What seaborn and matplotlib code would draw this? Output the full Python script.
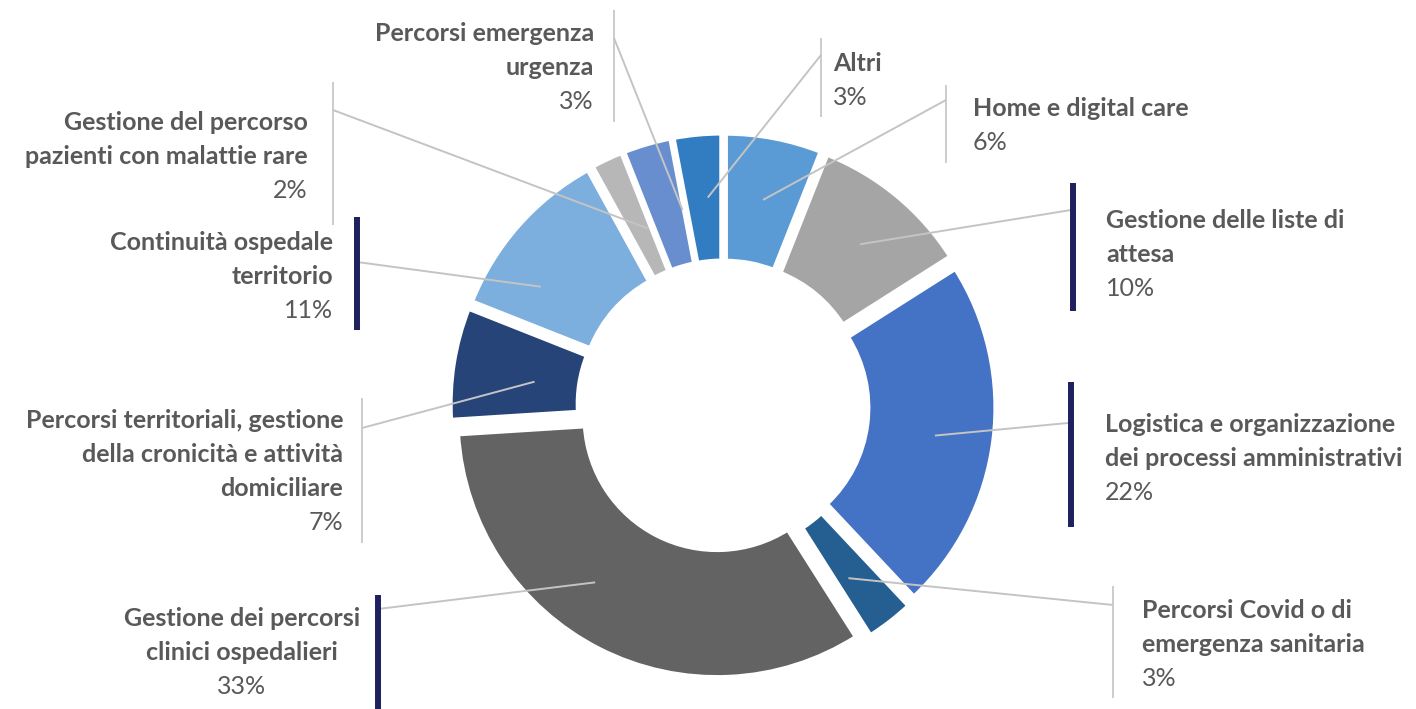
import matplotlib
matplotlib.use("Agg")
import matplotlib.pyplot as plt
import seaborn as sns
import numpy as np

# ---------------- data ----------------
categories = [
    "Home e digital care",
    "Gestione delle liste di attesa",
    "Logistica e organizzazione dei processi amministrativi",
    "Percorsi Covid o di emergenza sanitaria",
    "Gestione dei percorsi clinici ospedalieri",
    "Percorsi territoriali, gestione della cronicità e attività domiciliare",
    "Continuità ospedale territorio",
    "Gestione del percorso pazienti con malattie rare",
    "Percorsi emergenza urgenza",
    "Altri",
]
values = [6, 10, 22, 3, 33, 7, 11, 2, 3, 3]
wrapped_labels = [
    ["Home e digital care"],
    ["Gestione delle liste di", "attesa"],
    ["Logistica e organizzazione", "dei processi amministrativi"],
    ["Percorsi Covid o di", "emergenza sanitaria"],
    ["Gestione dei percorsi", "clinici ospedalieri"],
    ["Percorsi territoriali, gestione", "della cronicità e attività", "domiciliare"],
    ["Continuità ospedale", "territorio"],
    ["Gestione del percorso", "pazienti con malattie rare"],
    ["Percorsi emergenza", "urgenza"],
    ["Altri"],
]
slice_colors = ["#5B9BD5", "#A5A5A5", "#4472C4", "#255E91", "#636363",
                "#264478", "#7CAFDD", "#B7B7B7", "#698ED0", "#327DC2"]

# ---------------- layout (pixel coordinates, y from top) ----------------
W, H = 1416, 709
label_x = [973, 1106, 1105, 1142, 242, 343, 333, 308, 594, 833]
label_ha = ["left", "left", "left", "left", "center", "right", "right", "right", "right", "left"]
label_y0 = [108, 220, 424, 610, 618, 420, 242, 122, 33, 63]
bar_x = [946, 1073, 1071, 1113, 378, 362, 357, 333, 614, 821]
bar_y = [(85, 163), (183, 311), (382, 527), (586, 698), (595, 712), (398, 543),
         (217, 330), (82, 225), (10, 122), (38, 117)]
bar_navy = [False, True, True, False, True, False, True, False, False, False]
leader_start = [(946, 100), (1071, 210), (1068, 423), (1113, 605), (378, 609),
                (362, 428), (357, 262), (333, 110), (614, 38), (821, 55)]
# where the leader line ends inside each slice: fraction of the slice's
# angular span (clockwise) and distance from the slice's own centre
leader_frac = [0.51, 0.52, 0.51, 0.67, 0.58, 0.43, 0.28, 0.83, 0.95, 0.62]
leader_rad = [197, 199, 201, 200, 205, 177, 205, 180, 187, 196]

sns.set_theme(style="white")
plt.rcParams['font.family'] = ['Lato', 'DejaVu Sans']

fig = plt.figure(figsize=(W / 100, H / 100), dpi=100)
ax = fig.add_axes([0, 0, 1, 1])

CX, CY = 723, H - 406
R = 260
RING = 128
EXP = 13  # explode offset (data units = pixels)

palette = sns.color_palette(slice_colors)
wedges, _ = ax.pie(values, colors=palette, startangle=90, counterclock=False,
                   radius=R, center=(CX, CY), explode=[EXP] * len(values),
                   wedgeprops=dict(width=RING, edgecolor="white", linewidth=3.6),
                   frame=True)
ax.set_xlim(0, W)
ax.set_ylim(0, H)
ax.axis("off")

TXT = "#595959"
FS = 18
LS = 34
GRAY_LINE = "#C4C4C4"
NAVY = "#1F215E"

for k, w in enumerate(wedges):
    # leader line endpoint inside the slice (clockwise: from theta2 down to theta1)
    th = np.deg2rad(w.theta2 - leader_frac[k] * (w.theta2 - w.theta1))
    cx, cy = w.center
    ex, ey = cx + leader_rad[k] * np.cos(th), cy + leader_rad[k] * np.sin(th)
    sx, sy = leader_start[k]
    ax.plot([sx, ex], [H - sy, ey], color=GRAY_LINE, lw=1.4, zorder=5,
            solid_capstyle="butt")
    # label edge bar
    y1, y2 = bar_y[k]
    if bar_navy[k]:
        ax.plot([bar_x[k], bar_x[k]], [H - y1, H - y2], color=NAVY, lw=4.3,
                zorder=6, solid_capstyle="butt")
    else:
        ax.plot([bar_x[k], bar_x[k]], [H - y1, H - y2], color=GRAY_LINE, lw=1.2,
                zorder=6, solid_capstyle="butt")
    # label text
    lines = wrapped_labels[k]
    for i, line in enumerate(lines):
        ax.text(label_x[k], H - (label_y0[k] + i * LS + 8), line, ha=label_ha[k],
                va="baseline", fontsize=FS, fontweight="bold", color=TXT)
    ax.text(label_x[k], H - (label_y0[k] + len(lines) * LS + 8), f"{values[k]}%",
            ha=label_ha[k], va="baseline", fontsize=FS, color=TXT)

fig.savefig("out.png", dpi=100, facecolor="white")
